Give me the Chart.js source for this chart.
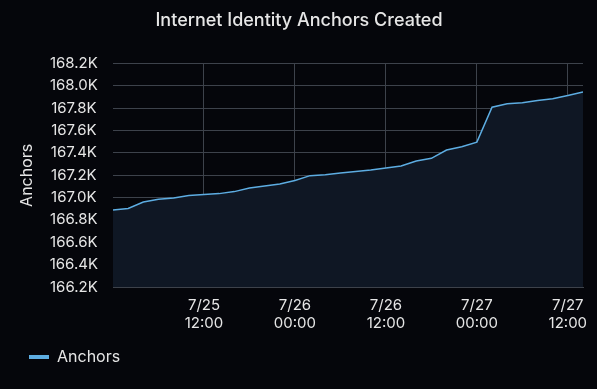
<!DOCTYPE html>
<html>
<head>
<meta charset="utf-8">
<script src="https://cdn.jsdelivr.net/npm/chart.js@4.4.0/dist/chart.umd.min.js"></script>
<style>
  html, body { margin: 0; padding: 0; background: #05060b; }
  #wrap { width: 597px; height: 389px; }
</style>
</head>
<body>
<div id="wrap"><canvas id="anchorsChart"></canvas></div>
<script>
// hours since 7/25 00:00
const hours = [0, 2, 4, 6, 8, 10, 12, 14, 16, 18, 20, 22, 24, 26, 28, 30,
  32, 34, 36, 38, 40, 42, 44, 46, 48, 50, 52, 54, 56, 58, 60, 62];
const anchors = [166890, 166903, 166961, 166986, 166997, 167019, 167028, 167036,
  167054, 167086, 167104, 167122, 167153, 167197, 167206, 167220,
  167233, 167247, 167265, 167283, 167328, 167352, 167426, 167456,
  167497, 167810, 167840, 167849, 167870, 167885, 167914, 167947];
const tickHours = [12, 24, 36, 48, 60];
const tickLabels = [["7/25", "12:00"], ["7/26", "00:00"], ["7/26", "12:00"], ["7/27", "00:00"], ["7/27", "12:00"]];

const lineColor = "#5dade2";
const gridColor = "#3d424b";
const textColor = "#e6e6e6";
Chart.defaults.font.family = "Inter, 'Noto Sans', sans-serif";

let ctx = document.getElementById("anchorsChart").getContext("2d");
new Chart(ctx, {
  type: "line",
  data: {
    datasets: [
      {
        label: "Anchors",
        data: hours.map((h, i) => ({ x: h, y: anchors[i] })),
        borderColor: lineColor,
        backgroundColor: "#0f1724",
        borderWidth: 1.5,
        pointRadius: 0,
        fill: "start",
        tension: 0,
      },
    ],
  },
  options: {
    responsive: true,
    maintainAspectRatio: false,
    animation: false,
    layout: { padding: { left: 15, right: 14, top: 0, bottom: 14 } },
    plugins: {
      title: {
        display: true,
        text: "Internet Identity Anchors Created",
        color: textColor,
        font: { size: 18, weight: "500" },
        padding: { top: 10, bottom: 32 },
      },
      legend: {
        display: true,
        position: "bottom",
        align: "start",
        labels: {
          color: textColor,
          font: { size: 16 },
          boxWidth: 20,
          boxHeight: 4,
          padding: 14,
          generateLabels: chart => [{
            text: "Anchors",
            fillStyle: lineColor,
            strokeStyle: lineColor,
            lineWidth: 0,
            datasetIndex: 0,
            fontColor: textColor,
          }],
        },
      },
      tooltip: { enabled: false },
    },
    scales: {
      x: {
        type: "linear",
        min: 0,
        max: 62,
        afterBuildTicks: scale => {
          scale.ticks = tickHours.map(v => ({ value: v }));
        },
        afterFit: scale => { scale.height = 48; },
        grid: { color: gridColor, drawTicks: false },
        border: { color: gridColor },
        ticks: {
          color: textColor,
          font: { size: 15, lineHeight: 1.2 },
          padding: 9,
          maxRotation: 0,
          callback: value => tickLabels[tickHours.indexOf(value)],
        },
      },
      y: {
        min: 166200,
        max: 168200,
        afterFit: scale => { scale.width = 98; },
        grid: { color: gridColor, drawTicks: false },
        border: { display: false },
        title: {
          display: true,
          text: "Anchors",
          color: textColor,
          font: { size: 16 },
          padding: { top: 3, bottom: 4 },
        },
        ticks: {
          color: textColor,
          font: { size: 15 },
          padding: 15,
          stepSize: 200,
          crossAlign: "center",
          callback: value => (value / 1000).toFixed(1) + "K",
        },
      },
    },
  },
});
</script>
</body>
</html>
